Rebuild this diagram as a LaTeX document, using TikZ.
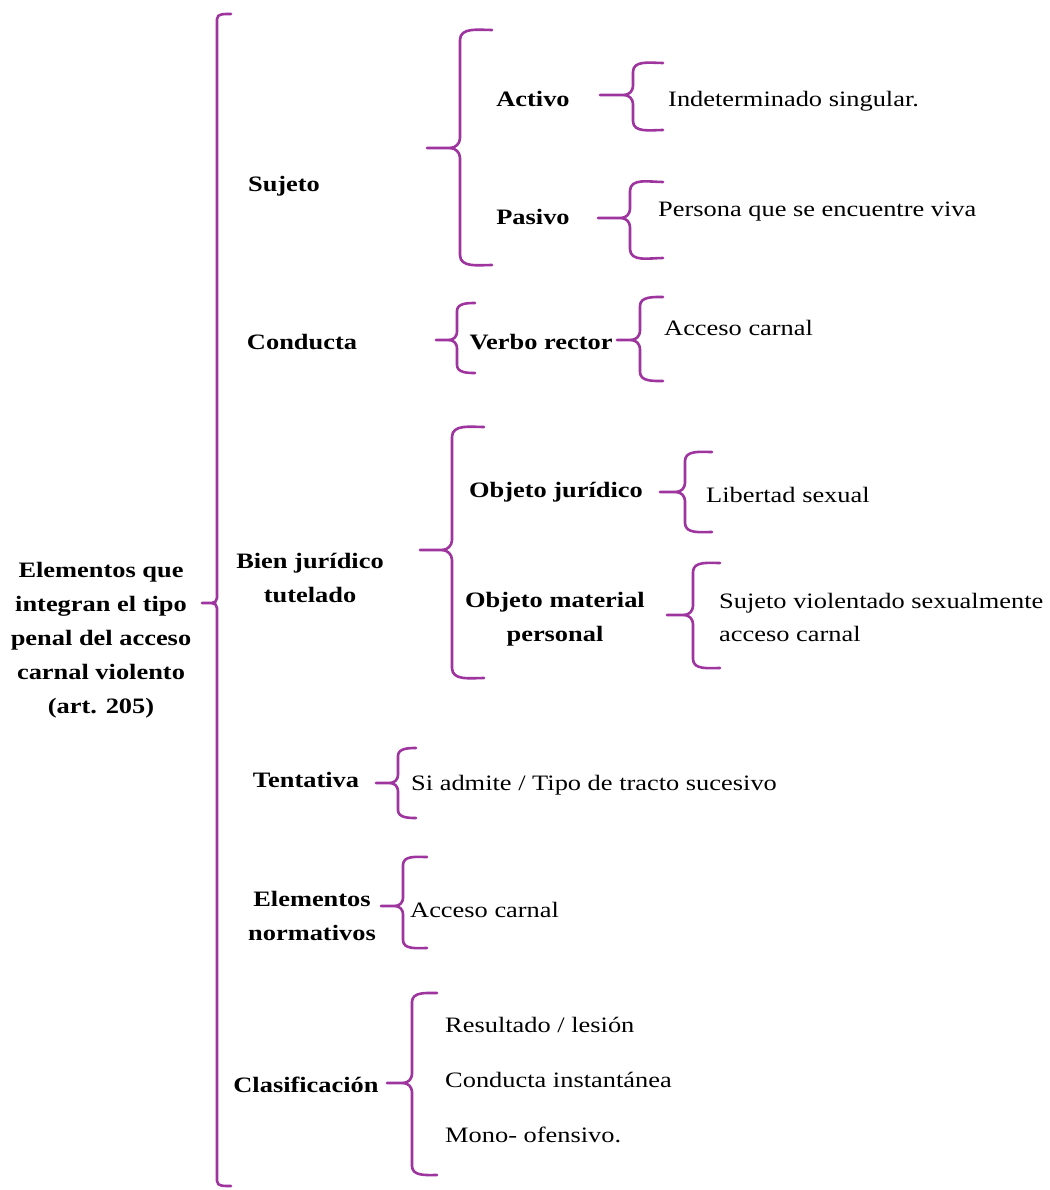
\documentclass[tikz,border=0pt]{standalone}
\usepackage{fontspec}
\setmainfont{Liberation Serif}[FakeStretch=1.2]
\definecolor{brc}{RGB}{158,52,158}
\tikzset{
  brline/.style={draw=brc, line width=2.6pt, line cap=round, line join=round},
  lbl/.style={font=\fontsize{22}{34}\selectfont\bfseries, inner sep=0pt, align=center},
  txt/.style={font=\fontsize{22}{33}\selectfont, inner sep=0pt, align=left},
}
\newcommand\curlyb[7]{%
  \draw[brline] (#6,#2) to[out=180,in=90] (#1,#2+#7) -- (#1,#4-#7) to[out=-90,in=0] (#1-#7,#4) -- (#5,#4);
  \draw[brline] (#1-#7,#4) to[out=0,in=90] (#1,#4+#7) -- (#1,#3-#7) to[out=-90,in=180] (#6,#3);}
\begin{document}
\begin{tikzpicture}[x=1pt,y=-1pt]
\useasboundingbox (0,0) rectangle (1049,1190);
% root
\node[lbl] (root) at (101,640) {Elementos que\\integran el tipo\\penal del acceso\\carnal violento\\(art. 205)};
\curlyb{217}{14}{1186}{603}{202}{231}{5}
% Sujeto
\node[lbl, anchor=base] (suj) at (284,192) {Sujeto};
\curlyb{460}{30}{265}{148}{427}{492}{10}
\node[lbl, anchor=base] (act) at (533,107) {Activo};
\node[lbl, anchor=base] (pas) at (533,225) {Pasivo};
\curlyb{633}{63}{130}{95}{600}{663}{9}
\node[txt, anchor=base west] (ind) at (668,107) {Indeterminado singular.};
\curlyb{630}{182}{258}{218}{598}{663}{9}
\node[txt, anchor=base west] (viva) at (658,217) {Persona que se encuentre viva};
% Conducta
\node[lbl, anchor=base] (cond) at (302,349) {Conducta};
\curlyb{457}{303}{373}{340}{436}{475}{8}
\node[lbl, anchor=base] (verbo) at (541,349) {Verbo rector};
\curlyb{640}{297}{381}{340}{617}{663}{9}
\node[txt, anchor=base west] (acc1) at (664,335) {Acceso carnal};
% Bien juridico
\node[lbl] (bien) at (310,578) {Bien jurídico\\tutelado};
\curlyb{452}{427}{678}{550}{420}{484}{10}
\node[lbl, anchor=base] (objj) at (556,497) {Objeto jurídico};
\curlyb{685}{452}{532}{492}{660}{712}{9}
\node[txt, anchor=base west] (lib) at (706,502) {Libertad sexual};
\node[lbl] (objm) at (555,619) {Objeto material\\personal};
\curlyb{693}{563}{668}{615}{667}{720}{9}
\node[txt, anchor=west] (sujv) at (719,617) {Sujeto violentado sexualmente\\acceso carnal};
% Tentativa
\node[lbl, anchor=base] (tent) at (306,787) {Tentativa};
\curlyb{398}{748}{818}{783}{376}{416}{8}
\node[txt, anchor=base west] (siad) at (411,790) {Si admite / Tipo de tracto sucesivo};
% Elementos normativos
\node[lbl] (elem) at (312,916) {Elementos\\normativos};
\curlyb{403}{857}{948}{906}{381}{427}{8}
\node[txt, anchor=base west] (acc2) at (410,917) {Acceso carnal};
% Clasificacion
\node[lbl, anchor=base] (clas) at (306,1092) {Clasificación};
\curlyb{412}{993}{1175}{1083}{387}{437}{9}
\node[txt, anchor=base west] (res) at (445,1032) {Resultado / lesión};
\node[txt, anchor=base west] (inst) at (445,1087) {Conducta instantánea};
\node[txt, anchor=base west] (mono) at (445,1142) {Mono- ofensivo.};
\end{tikzpicture}
\end{document}
